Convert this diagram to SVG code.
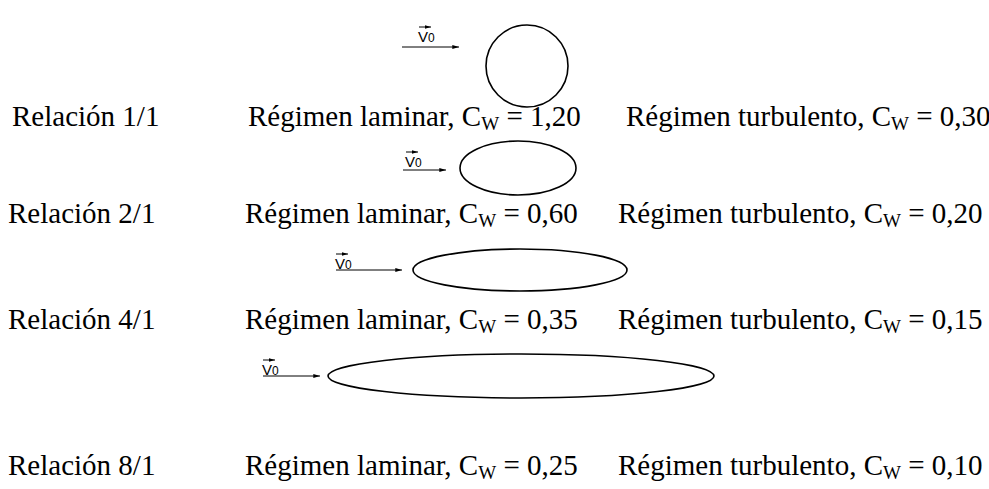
<svg xmlns="http://www.w3.org/2000/svg" width="989" height="489" viewBox="0 0 989 489">
<defs>
<marker id="ah" viewBox="0 0 10 6" refX="10" refY="3" markerWidth="7" markerHeight="4" markerUnits="userSpaceOnUse" orient="auto"><path d="M0,0 L10,3 L0,6 Z" fill="#000"/></marker>
<marker id="vh" viewBox="0 0 10 6" refX="10" refY="3" markerWidth="6" markerHeight="4" markerUnits="userSpaceOnUse" orient="auto"><path d="M0,0 L10,3 L0,6 Z" fill="#000"/></marker>
</defs>
<style>
.t{font-family:"Liberation Serif","Times New Roman",serif;font-size:29px;fill:#000}
.s{font-size:19px}
.v{font-family:"Liberation Sans",Arial,sans-serif;font-size:15px;fill:#000}
.vs{font-size:12px}
.body{fill:none;stroke:#000;stroke-width:1.6}
.flow{stroke:#000;stroke-width:1;fill:none}
</style>
<rect width="989" height="489" fill="#fff"/>
<g id="body1"><circle class="body" cx="527" cy="66" r="41"/></g>
<g id="body2"><ellipse class="body" cx="518" cy="168" rx="58" ry="27"/></g>
<g id="body3"><ellipse class="body" cx="520" cy="270" rx="107" ry="21"/></g>
<g id="body4"><ellipse class="body" cx="521" cy="376" rx="193" ry="22"/></g>
<g id="connectors">
<line class="flow" x1="402" y1="47" x2="459" y2="47" marker-end="url(#ah)"/>
<line class="flow" x1="403" y1="170" x2="446" y2="170" marker-end="url(#ah)"/>
<line class="flow" x1="336" y1="270" x2="402" y2="270" marker-end="url(#ah)"/>
<line class="flow" x1="263" y1="376" x2="320" y2="376" marker-end="url(#ah)"/>
</g>
<g id="v1"><line class="flow" x1="419" y1="27" x2="431" y2="27" marker-end="url(#vh)"/><text class="v" x="418" y="42">V<tspan class="vs">0</tspan></text></g>
<g id="v2"><line class="flow" x1="406" y1="152" x2="418" y2="152" marker-end="url(#vh)"/><text class="v" x="405" y="167">V<tspan class="vs">0</tspan></text></g>
<g id="v3"><line class="flow" x1="336" y1="254" x2="348" y2="254" marker-end="url(#vh)"/><text class="v" x="335" y="269">V<tspan class="vs">0</tspan></text></g>
<g id="v4"><line class="flow" x1="263" y1="360" x2="275" y2="360" marker-end="url(#vh)"/><text class="v" x="262" y="375">V<tspan class="vs">0</tspan></text></g>
<g id="row1">
<text class="t" x="12" y="126">Relación 1/1</text>
<text class="t" x="248" y="126">Régimen laminar, C<tspan class="s" dy="4">W</tspan><tspan dy="-4"> = 1,20</tspan></text>
<text class="t" x="626" y="126">Régimen turbulento, C<tspan class="s" dy="4">W</tspan><tspan dy="-4"> = 0,30</tspan></text>
</g>
<g id="row2">
<text class="t" x="8" y="223">Relación 2/1</text>
<text class="t" x="245" y="223">Régimen laminar, C<tspan class="s" dy="4">W</tspan><tspan dy="-4"> = 0,60</tspan></text>
<text class="t" x="618" y="223">Régimen turbulento, C<tspan class="s" dy="4">W</tspan><tspan dy="-4"> = 0,20</tspan></text>
</g>
<g id="row3">
<text class="t" x="8" y="329">Relación 4/1</text>
<text class="t" x="245" y="329">Régimen laminar, C<tspan class="s" dy="4">W</tspan><tspan dy="-4"> = 0,35</tspan></text>
<text class="t" x="618" y="329">Régimen turbulento, C<tspan class="s" dy="4">W</tspan><tspan dy="-4"> = 0,15</tspan></text>
</g>
<g id="row4">
<text class="t" x="8" y="475">Relación 8/1</text>
<text class="t" x="245" y="475">Régimen laminar, C<tspan class="s" dy="4">W</tspan><tspan dy="-4"> = 0,25</tspan></text>
<text class="t" x="618" y="475">Régimen turbulento, C<tspan class="s" dy="4">W</tspan><tspan dy="-4"> = 0,10</tspan></text>
</g>
</svg>
